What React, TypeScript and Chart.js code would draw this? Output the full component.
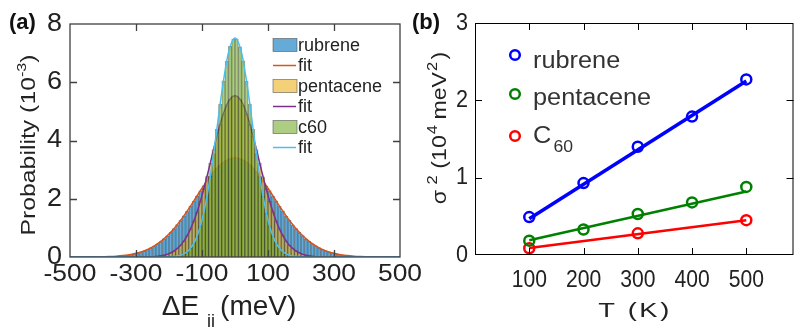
import React, { useEffect, useRef } from "react";
import { Chart, registerables } from "chart.js";
Chart.register(...registerables);

// ---------- Panel (a): histograms of ΔE_ii (10^-3) ----------
const binCenters = [
  -495, -485, -475, -465, -455, -445, -435, -425, -415, -405,
  -395, -385, -375, -365, -355, -345, -335, -325, -315, -305,
  -295, -285, -275, -265, -255, -245, -235, -225, -215, -205,
  -195, -185, -175, -165, -155, -145, -135, -125, -115, -105,
  -95, -85, -75, -65, -55, -45, -35, -25, -15, -5,
  5, 15, 25, 35, 45, 55, 65, 75, 85, 95,
  105, 115, 125, 135, 145, 155, 165, 175, 185, 195,
  205, 215, 225, 235, 245, 255, 265, 275, 285, 295,
  305, 315, 325, 335, 345, 355, 365, 375, 385, 395,
  405, 415, 425, 435, 445, 455, 465, 475, 485, 495,
];
const rubreneHist = [
  0, 0, 0, 0.001, 0.001, 0.002, 0.003, 0.004, 0.006, 0.008,
  0.011, 0.015, 0.021, 0.026, 0.035, 0.044, 0.058, 0.071, 0.092, 0.113,
  0.143, 0.175, 0.216, 0.261, 0.318, 0.378, 0.454, 0.533, 0.631, 0.731,
  0.85, 0.972, 1.113, 1.255, 1.417, 1.575, 1.751, 1.918, 2.102, 2.268,
  2.449, 2.606, 2.772, 2.905, 3.049, 3.151, 3.256, 3.318, 3.378, 3.392,
  3.402, 3.366, 3.326, 3.247, 3.162, 3.038, 2.918, 2.762, 2.615, 2.441,
  2.278, 2.093, 1.925, 1.742, 1.582, 1.409, 1.262, 1.108, 0.976, 0.845,
  0.735, 0.626, 0.537, 0.45, 0.382, 0.315, 0.263, 0.213, 0.177, 0.141,
  0.115, 0.09, 0.073, 0.056, 0.045, 0.034, 0.027, 0.02, 0.015, 0.011,
  0.008, 0.006, 0.004, 0.003, 0.002, 0.001, 0.001, 0, 0, 0,
];
const pentaceneHist = [
  0, 0, 0, 0, 0, 0, 0, 0, 0, 0,
  0, 0, 0, 0, 0, 0, 0, 0, 0, 0,
  0.001, 0.002, 0.003, 0.006, 0.01, 0.017, 0.027, 0.043, 0.063, 0.097,
  0.14, 0.205, 0.287, 0.403, 0.544, 0.731, 0.952, 1.232, 1.545, 1.915,
  2.318, 2.763, 3.216, 3.69, 4.135, 4.56, 4.919, 5.224, 5.415, 5.532,
  5.525, 5.428, 5.211, 4.927, 4.553, 4.142, 3.684, 3.224, 2.756, 2.323,
  1.909, 1.551, 1.226, 0.958, 0.727, 0.548, 0.399, 0.291, 0.203, 0.142,
  0.095, 0.065, 0.041, 0.027, 0.017, 0.01, 0.006, 0.003, 0.002, 0.001,
  0, 0, 0, 0, 0, 0, 0, 0, 0, 0,
  0, 0, 0, 0, 0, 0, 0, 0, 0, 0,
];
const c60Hist = [
  0, 0, 0, 0, 0, 0, 0, 0, 0, 0,
  0, 0, 0, 0, 0, 0, 0, 0, 0, 0,
  0, 0, 0, 0, 0, 0, 0, 0.001, 0.002, 0.004,
  0.009, 0.017, 0.033, 0.058, 0.105, 0.177, 0.294, 0.465, 0.716, 1.055,
  1.511, 2.075, 2.768, 3.541, 4.393, 5.238, 6.052, 6.724, 7.231, 7.482,
  7.493, 7.219, 6.735, 6.041, 5.249, 4.384, 3.552, 2.757, 2.083, 1.505,
  1.06, 0.712, 0.468, 0.292, 0.179, 0.103, 0.06, 0.031, 0.017, 0.009,
  0.004, 0.002, 0.001, 0, 0, 0, 0, 0, 0, 0,
  0, 0, 0, 0, 0, 0, 0, 0, 0, 0,
  0, 0, 0, 0, 0, 0, 0, 0, 0, 0,
];
const fitE = [
  -500, -480, -460, -440, -420, -400, -380, -360, -340, -320, -300, -280, -260,
  -240, -220, -200, -180, -160, -140, -120, -100, -80, -60, -40, -20, 0,
  20, 40, 60, 80, 100, 120, 140, 160, 180, 200, 220, 240, 260,
  280, 300, 320, 340, 360, 380, 400, 420, 440, 460, 480, 500,
];
const rubreneFit = [
  0, 0.001, 0.001, 0.003, 0.005, 0.01, 0.017, 0.03, 0.05, 0.081, 0.127, 0.194, 0.288,
  0.415, 0.58, 0.789, 1.041, 1.335, 1.662, 2.009, 2.36, 2.691, 2.981, 3.207, 3.351, 3.4,
  3.351, 3.207, 2.981, 2.691, 2.36, 2.009, 1.662, 1.335, 1.041, 0.789, 0.58, 0.415, 0.288,
  0.194, 0.127, 0.081, 0.05, 0.03, 0.017, 0.01, 0.005, 0.003, 0.001, 0.001, 0,
];
const pentaceneFit = [
  0, 0, 0, 0, 0, 0, 0, 0, 0, 0, 0.001, 0.003, 0.008,
  0.021, 0.052, 0.117, 0.243, 0.469, 0.837, 1.382, 2.112, 2.988, 3.915, 4.748, 5.331, 5.54,
  5.331, 4.748, 3.915, 2.988, 2.112, 1.382, 0.837, 0.469, 0.243, 0.117, 0.052, 0.021, 0.008,
  0.003, 0.001, 0, 0, 0, 0, 0, 0, 0, 0, 0, 0,
];
const c60Fit = [
  0, 0, 0, 0, 0, 0, 0, 0, 0, 0, 0, 0, 0,
  0, 0.001, 0.006, 0.024, 0.079, 0.23, 0.58, 1.268, 2.407, 3.962, 5.657, 7.003, 7.52,
  7.003, 5.657, 3.962, 2.407, 1.268, 0.58, 0.23, 0.079, 0.024, 0.006, 0.001, 0, 0,
  0, 0, 0, 0, 0, 0, 0, 0, 0, 0, 0, 0,
];
const energyTicks = [-500, -300, -100, 100, 300, 500];
const probTicks = [0, 2, 4, 6, 8];
const legendA = ["rubrene", "fit", "pentacene", "fit", "c60", "fit"];

// ---------- Panel (b): σ² vs T ----------
const temps = [100, 200, 300, 400, 500];
const rubreneVar = [0.49, 0.93, 1.4, 1.79, 2.27];
const pentaceneVar = [0.185, 0.33, 0.53, 0.68, 0.88];
const c60Temps = [100, 300, 500];
const c60Var = [0.087, 0.28, 0.45];
const fitT = [100, 500];
const rubreneVarFit = [0.47, 2.25];
const pentaceneVarFit = [0.19, 0.82];
const c60VarFit = [0.09, 0.45];
const tempTicks = [100, 200, 300, 400, 500];
const varTicks = [0, 1, 2, 3];

const SANS = '"Liberation Sans", Arial, Helvetica, sans-serif';

const COL = {
  rubBar: "rgba(0,114,189,0.6)",
  penBar: "rgba(237,177,32,0.6)",
  c60Bar: "rgba(119,172,48,0.6)",
  rubFit: "rgb(217,83,25)",
  penFit: "rgb(126,47,142)",
  c60Fit: "rgb(77,190,238)",
  edge: "rgba(35,35,35,0.45)",
};

type Part = { t: string; px: number; dy?: number; gap?: number; bold?: boolean };

function rich(
  ctx: CanvasRenderingContext2D,
  parts: Part[],
  x: number,
  y: number,
  color: string,
  opts: { rotate?: boolean; sx?: number; align?: "left" | "center"; spacing?: string } = {}
) {
  ctx.save();
  ctx.translate(x, y);
  if (opts.rotate) ctx.rotate(-Math.PI / 2);
  ctx.scale(opts.sx ?? 1, 1);
  ctx.fillStyle = color;
  ctx.textBaseline = "alphabetic";
  ctx.textAlign = "left";
  (ctx as any).letterSpacing = opts.spacing ?? "0px";
  const fontOf = (p: Part) => `${p.bold ? "bold " : ""}${p.px}px ${SANS}`;
  const ws = parts.map((p) => {
    ctx.font = fontOf(p);
    return ctx.measureText(p.t).width;
  });
  const total = parts.reduce((s, p, i) => s + ws[i] + (p.gap ?? 0), 0);
  let cx = opts.align === "center" ? -total / 2 : 0;
  parts.forEach((p, i) => {
    ctx.font = fontOf(p);
    ctx.fillText(p.t, cx, p.dy ?? 0);
    cx += ws[i] + (p.gap ?? 0);
  });
  ctx.restore();
}

function label(
  ctx: CanvasRenderingContext2D,
  s: string,
  x: number,
  y: number,
  px: number,
  color: string,
  align: CanvasTextAlign,
  sx = 1,
  baseline: CanvasTextBaseline = "middle"
) {
  ctx.save();
  ctx.translate(x, y);
  ctx.scale(sx, 1);
  ctx.font = `${px}px ${SANS}`;
  ctx.fillStyle = color;
  ctx.textAlign = align;
  ctx.textBaseline = baseline;
  ctx.fillText(s, 0, 0);
  ctx.restore();
}

const panelAPlugin = {
  id: "panelA",
  afterDraw(chart: any) {
    const ctx: CanvasRenderingContext2D = chart.ctx;
    const a = chart.chartArea;
    const xs = chart.scales.x;
    const ys = chart.scales.y;
    ctx.save();
    // frame
    ctx.strokeStyle = "#404040";
    ctx.lineWidth = 1.3;
    ctx.strokeRect(a.left, a.top, a.right - a.left, a.bottom - a.top);
    // inner ticks
    ctx.beginPath();
    energyTicks.forEach((v) => {
      const px = Math.round(xs.getPixelForValue(v)) + 0.5;
      if (px <= a.left + 1 || px >= a.right - 1) return;
      ctx.moveTo(px, a.bottom);
      ctx.lineTo(px, a.bottom - 7);
      ctx.moveTo(px, a.top);
      ctx.lineTo(px, a.top + 7);
    });
    probTicks.forEach((v) => {
      const py = Math.round(ys.getPixelForValue(v)) + 0.5;
      if (py <= a.top + 1 || py >= a.bottom - 1) return;
      ctx.moveTo(a.left, py);
      ctx.lineTo(a.left + 7, py);
      ctx.moveTo(a.right, py);
      ctx.lineTo(a.right - 7, py);
    });
    ctx.stroke();
    // tick labels
    energyTicks.forEach((v) => {
      label(ctx, String(v), xs.getPixelForValue(v), 274, 24, "#222", "center", 1.1);
    });
    probTicks.forEach((v) => {
      label(ctx, String(v), a.left - 8, ys.getPixelForValue(v), 25, "#222", "right", 1.08);
    });
    // axis titles
    rich(
      ctx,
      [
        { t: "ΔE", px: 28, gap: 8 },
        { t: "ii", px: 18, dy: 12, gap: 5 },
        { t: "(meV)", px: 28 },
      ],
      229,
      315,
      "#222",
      { align: "center" }
    );
    rich(
      ctx,
      [
        { t: "Probability (10", px: 20 },
        { t: "-3", px: 13, dy: -9 },
        { t: ")", px: 20 },
      ],
      35,
      145,
      "#222",
      { rotate: true, sx: 1.24, align: "center" }
    );
    // panel label
    rich(ctx, [{ t: "(a)", px: 22, bold: true }], 9, 29, "#111");
    // legend
    const rowY = [45, 65.5, 86, 106.5, 127, 147.5];
    const swatch = [COL.rubBar, COL.rubFit, COL.penBar, COL.penFit, COL.c60Bar, COL.c60Fit];
    legendA.forEach((name, i) => {
      const yy = rowY[i];
      if (i % 2 === 0) {
        ctx.fillStyle = "#fff";
        ctx.fillRect(273, yy - 6.5, 24, 13);
        ctx.fillStyle = swatch[i];
        ctx.fillRect(273, yy - 6.5, 24, 13);
        ctx.strokeStyle = "rgba(60,60,60,0.6)";
        ctx.lineWidth = 0.8;
        ctx.strokeRect(273, yy - 6.5, 24, 13);
      } else {
        ctx.strokeStyle = swatch[i];
        ctx.lineWidth = 1.5;
        ctx.beginPath();
        ctx.moveTo(273, yy);
        ctx.lineTo(296, yy);
        ctx.stroke();
      }
      label(ctx, name, 298, yy + 1, 18, "#222", "left");
    });
    ctx.restore();
  },
};

const panelBPlugin = {
  id: "panelB",
  afterDraw(chart: any) {
    const ctx: CanvasRenderingContext2D = chart.ctx;
    const a = chart.chartArea;
    const xs = chart.scales.x;
    const ys = chart.scales.y;
    ctx.save();
    ctx.strokeStyle = "#000";
    ctx.lineWidth = 1;
    ctx.strokeRect(a.left + 0.5, a.top + 0.5, a.right - a.left - 1, a.bottom - a.top - 1);
    ctx.beginPath();
    tempTicks.forEach((v) => {
      const px = Math.round(xs.getPixelForValue(v)) + 0.5;
      ctx.moveTo(px, a.bottom);
      ctx.lineTo(px, a.bottom - 7);
      ctx.moveTo(px, a.top);
      ctx.lineTo(px, a.top + 7);
    });
    varTicks.forEach((v) => {
      const py = Math.round(ys.getPixelForValue(v)) + 0.5;
      if (py <= a.top + 1 || py >= a.bottom - 1) return;
      ctx.moveTo(a.left, py);
      ctx.lineTo(a.left + 7, py);
      ctx.moveTo(a.right, py);
      ctx.lineTo(a.right - 7, py);
    });
    ctx.stroke();
    tempTicks.forEach((v) => {
      label(ctx, String(v), xs.getPixelForValue(v), 280, 24, "#222", "center", 0.88);
    });
    varTicks.forEach((v) => {
      label(ctx, String(v), 67, ys.getPixelForValue(v), 24, "#222", "right", 0.9);
    });
    rich(ctx, [{ t: "T (K)", px: 21 }], 234, 317, "#222", { align: "center", sx: 1.3, spacing: "2px" });
    rich(
      ctx,
      [
        { t: "σ", px: 21, gap: 5 },
        { t: "2", px: 15, dy: -9, gap: 6 },
        { t: "(10", px: 21, gap: 1 },
        { t: "4", px: 15, dy: -9, gap: 5 },
        { t: "meV", px: 21, gap: 1 },
        { t: "2", px: 15, dy: -9, gap: 2 },
        { t: ")", px: 21 },
      ],
      45,
      128,
      "#222",
      { rotate: true, align: "center", sx: 1.1 }
    );
    rich(ctx, [{ t: "(b)", px: 22, bold: true }], 11, 29, "#111");
    // legend
    const lg = [
      { c: "#0000ff", cy: 55 },
      { c: "#008000", cy: 94 },
      { c: "#ff0000", cy: 136 },
    ];
    lg.forEach((r) => {
      ctx.strokeStyle = r.c;
      ctx.lineWidth = 2.5;
      ctx.beginPath();
      ctx.arc(114, r.cy, 4.8, 0, Math.PI * 2);
      ctx.stroke();
    });
    rich(ctx, [{ t: "rubrene", px: 23 }], 132, 68, "#333", { sx: 1.1 });
    rich(ctx, [{ t: "pentacene", px: 23 }], 132, 105, "#333", { sx: 1.1 });
    rich(
      ctx,
      [
        { t: "C", px: 23, gap: 2 },
        { t: "60", px: 16, dy: 9 },
      ],
      132,
      143,
      "#333",
      { sx: 1.1 }
    );
    ctx.restore();
  },
};

function hist(label: string, ys: number[], color: string, order: number) {
  return {
    type: "bar" as const,
    label,
    data: binCenters.map((e, i) => ({ x: e, y: ys[i] })),
    backgroundColor: color,
    borderColor: COL.edge,
    borderWidth: 0.6,
    grouped: false,
    barPercentage: 1,
    categoryPercentage: 1,
    order,
  };
}
function fit(label: string, ys: number[], color: string, order: number) {
  return {
    type: "line" as const,
    label,
    data: fitE.map((e, i) => ({ x: e, y: ys[i] })),
    borderColor: color,
    borderWidth: 1.5,
    pointRadius: 0,
    cubicInterpolationMode: "monotone" as const,
    fill: false,
    order,
  };
}
function markers(label: string, xs: number[], ys: number[], color: string) {
  return {
    label,
    data: xs.map((t, i) => ({ x: t, y: ys[i] })),
    showLine: false,
    pointRadius: 5,
    pointBorderWidth: 2.5,
    pointBorderColor: color,
    pointBackgroundColor: "rgba(0,0,0,0)",
    borderColor: color,
  };
}
function line(label: string, ys: number[], color: string, width: number) {
  return {
    label,
    data: fitT.map((t, i) => ({ x: t, y: ys[i] })),
    borderColor: color,
    borderWidth: width,
    pointRadius: 0,
    fill: false,
  };
}

export default function App() {
  const refA = useRef<HTMLCanvasElement>(null);
  const refB = useRef<HTMLCanvasElement>(null);

  useEffect(() => {
    const chartA = new Chart(refA.current as HTMLCanvasElement, {
      type: "bar",
      data: {
        datasets: [
          hist("rubrene", rubreneHist, COL.rubBar, 6),
          fit("fit", rubreneFit, COL.rubFit, 5),
          hist("pentacene", pentaceneHist, COL.penBar, 4),
          fit("fit", pentaceneFit, COL.penFit, 3),
          hist("c60", c60Hist, COL.c60Bar, 2),
          fit("fit", c60Fit, COL.c60Fit, 1),
        ] as any,
      },
      options: {
        responsive: false,
        animation: false,
        events: [],
        layout: { padding: { left: 70, right: 30, top: 24, bottom: 73 } },
        plugins: { legend: { display: false }, tooltip: { enabled: false } },
        scales: {
          x: { type: "linear", min: -500, max: 500, display: false, offset: false },
          y: { type: "linear", min: 0, max: 8, display: false },
        },
      } as any,
      plugins: [panelAPlugin],
    });

    const chartB = new Chart(refB.current as HTMLCanvasElement, {
      type: "line",
      data: {
        datasets: [
          line("rubrene fit", rubreneVarFit, "#0000ff", 3.5),
          line("pentacene fit", pentaceneVarFit, "#008000", 2.5),
          line("C60 fit", c60VarFit, "#ff0000", 2.5),
          markers("rubrene", temps, rubreneVar, "#0000ff"),
          markers("pentacene", temps, pentaceneVar, "#008000"),
          markers("C60", c60Temps, c60Var, "#ff0000"),
        ] as any,
      },
      options: {
        responsive: false,
        animation: false,
        events: [],
        layout: { padding: { left: 74, right: 1, top: 23, bottom: 75 } },
        plugins: { legend: { display: false }, tooltip: { enabled: false } },
        scales: {
          x: { type: "linear", min: 0, max: 587, display: false },
          y: { type: "linear", min: 0, max: 3, display: false },
        },
      } as any,
      plugins: [panelBPlugin],
    });

    return () => {
      chartA.destroy();
      chartB.destroy();
    };
  }, []);

  return (
    <div
      style={{
        position: "absolute",
        left: 0,
        top: 0,
        width: 801,
        height: 330,
        background: "#fff",
        overflow: "hidden",
      }}
    >
      <canvas
        ref={refA}
        width={430}
        height={330}
        style={{ position: "absolute", left: 0, top: 0, width: 430, height: 330 }}
      />
      <canvas
        ref={refB}
        width={400}
        height={330}
        style={{ position: "absolute", left: 401, top: 0, width: 400, height: 330 }}
      />
    </div>
  );
}
